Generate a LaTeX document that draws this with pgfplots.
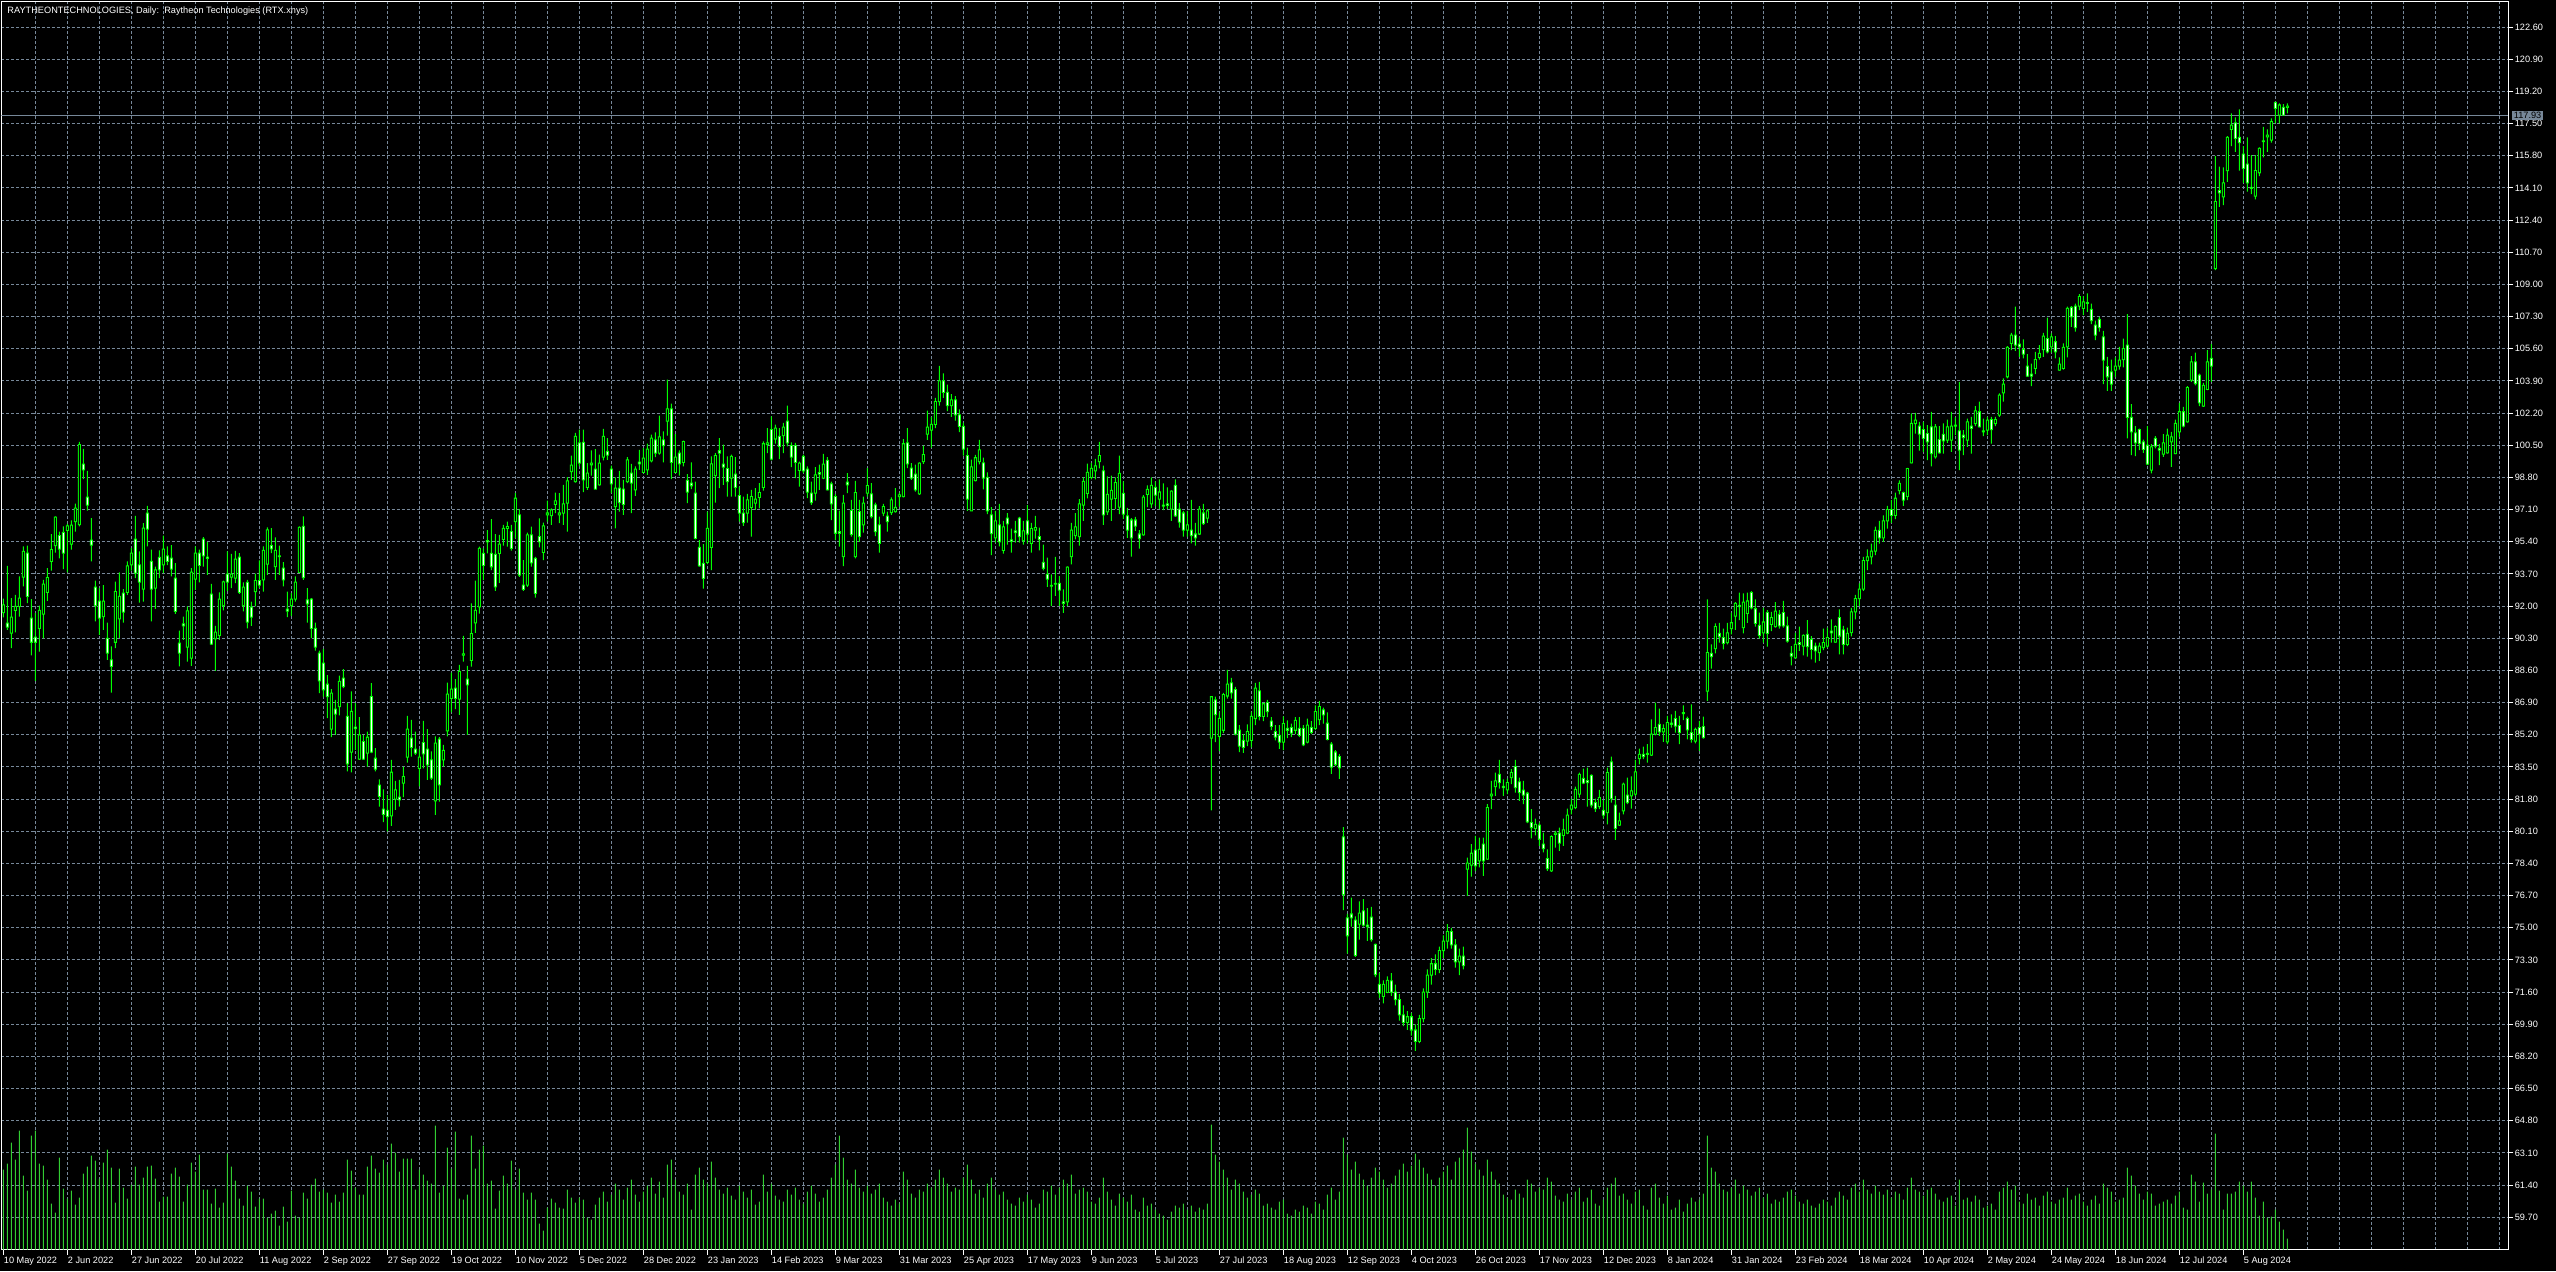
\documentclass[border=0pt]{standalone}
\usepackage{fontspec}
\setmainfont{Liberation Sans}
\usepackage{pgfplots}
\usepackage{pgfplotstable}
\pgfplotsset{compat=1.18}
\definecolor{candle}{RGB}{0,255,0}
\definecolor{volgreen}{RGB}{50,205,50}
\definecolor{gridgray}{RGB}{119,136,153}
\pgfplotstableread{
i o h l c v
0 91.66 92.40 91.40 92.07 80
1 91.10 94.13 90.75 90.89 86
2 90.57 92.42 89.78 91.42 107
3 91.77 92.60 90.61 91.98 90
4 91.98 93.57 91.45 92.42 119
5 93.53 95.15 93.04 94.89 74
6 94.80 95.19 92.16 92.51 59
7 91.36 92.37 89.39 90.09 114
8 90.36 91.63 88.05 90.09 119
9 90.82 92.02 89.60 91.77 86
10 91.58 93.39 90.29 93.16 84
11 92.72 94.01 92.28 93.51 70
12 94.36 95.80 93.88 94.98 46
13 95.20 96.74 94.83 96.70 37
14 95.72 95.94 94.52 95.01 92
15 95.89 96.21 93.95 94.80 61
16 96.00 96.35 93.78 96.24 51
17 95.28 96.53 94.98 96.28 59
18 96.47 97.41 95.94 97.18 45
19 96.31 100.68 96.21 100.53 52
20 99.50 100.31 98.71 99.20 76
21 97.76 99.15 97.05 97.34 83
22 95.49 96.65 94.36 95.22 94
23 93.00 93.34 91.19 92.02 89
24 92.26 92.95 90.48 91.36 71
25 91.45 93.11 90.75 92.26 87
26 90.29 91.13 89.16 89.51 100
27 89.16 89.87 87.43 88.81 82
28 90.09 93.30 89.78 92.77 47
29 91.33 93.78 90.31 92.51 81
30 92.69 92.90 91.13 91.68 62
31 92.72 94.36 92.60 94.13 51
32 94.18 95.06 93.88 94.80 65
33 95.54 96.77 93.48 93.74 83
34 94.18 94.89 92.19 93.27 65
35 92.90 96.39 92.24 96.12 72
36 96.91 97.30 95.15 96.07 83
37 94.36 94.98 91.19 92.90 84
38 92.95 94.09 91.86 93.92 71
39 94.57 94.94 93.48 93.92 48
40 94.18 95.72 93.74 95.01 53
41 94.66 95.15 94.17 94.36 53
42 94.54 95.22 93.57 93.95 76
43 93.48 94.27 91.59 91.72 82
44 90.04 90.71 88.81 89.51 73
45 91.06 91.45 90.22 90.96 48
46 89.83 91.98 89.07 91.75 65
47 89.25 94.01 88.84 93.80 87
48 93.43 95.15 92.86 94.80 78
49 94.80 94.98 93.25 94.15 95
50 95.54 95.65 94.09 94.66 60
51 94.59 95.38 93.65 94.52 60
52 92.63 93.18 89.95 89.99 46
53 90.27 90.96 88.58 90.62 61
54 90.45 92.72 90.22 92.37 42
55 92.02 93.34 91.77 93.28 47
56 93.69 94.89 92.81 93.27 96
57 93.53 94.76 92.95 93.69 83
58 93.48 94.92 93.21 94.48 69
59 94.59 94.80 92.65 92.72 51
60 92.03 93.25 91.72 93.00 44
61 93.25 93.39 90.82 91.15 64
62 91.95 92.24 90.96 91.42 58
63 92.77 93.71 91.98 93.35 43
64 93.35 94.41 92.95 93.11 51
65 93.39 95.15 92.77 94.94 51
66 94.22 96.16 93.65 96.03 32
67 95.20 96.12 94.80 95.03 36
68 94.09 95.63 93.39 94.94 39
69 94.66 95.19 93.65 94.62 24
70 94.01 94.32 93.04 93.39 43
71 91.84 92.77 91.42 91.73 28
72 92.02 92.69 91.49 92.37 59
73 92.37 93.57 92.24 93.27 34
74 93.78 96.21 93.74 96.16 32
75 96.21 96.74 93.39 93.51 57
76 92.33 92.95 91.13 92.12 51
77 92.37 92.42 90.31 90.82 65
78 90.82 91.13 89.65 89.83 71
79 89.51 89.65 87.40 88.05 58
80 88.99 89.74 87.22 87.58 60
81 87.87 88.35 86.08 87.22 57
82 85.50 87.61 85.07 87.40 47
83 86.55 87.05 85.20 86.29 55
84 86.69 88.32 86.22 88.02 48
85 88.19 88.67 87.66 87.75 57
86 86.17 86.87 83.26 83.66 90
87 84.28 87.49 83.21 86.43 79
88 85.60 86.87 84.40 85.53 62
89 83.91 86.13 83.88 85.20 55
90 84.84 85.20 83.88 83.91 55
91 84.23 85.37 83.52 85.07 83
92 87.22 87.93 84.23 84.28 94
93 83.96 84.49 83.26 83.38 81
94 82.54 82.85 81.41 81.94 77
95 81.27 82.32 80.58 81.00 90
96 81.20 82.02 80.09 80.88 85
97 80.92 83.88 80.39 83.22 106
98 81.80 82.77 81.23 82.29 97
99 81.90 82.82 81.41 81.76 78
100 82.64 83.52 81.90 82.99 91
101 84.02 86.20 83.73 85.50 91
102 85.02 85.99 84.05 84.54 91
103 84.44 85.37 84.14 84.23 60
104 83.43 84.44 82.47 84.02 80
105 84.79 85.94 83.43 84.19 75
106 84.44 85.50 82.82 83.61 69
107 83.88 84.32 82.82 82.91 66
108 81.71 85.11 80.97 84.76 124
109 84.97 85.07 81.67 82.55 57
110 83.88 84.67 83.52 84.37 64
111 85.41 87.96 85.11 87.35 102
112 87.13 88.49 86.39 87.61 81
113 87.66 88.14 86.55 87.13 118
114 87.08 88.90 86.25 88.54 51
115 89.41 90.43 89.07 89.48 50
116 88.14 88.84 85.20 87.84 55
117 89.13 92.14 88.80 90.55 114
118 91.11 93.34 90.58 91.78 81
119 91.96 95.14 91.60 95.05 100
120 94.79 95.05 93.37 94.15 104
121 95.46 96.02 94.79 95.39 66
122 94.79 96.59 93.90 94.08 69
123 94.73 95.81 92.81 93.02 41
124 94.79 95.76 93.23 95.28 59
125 95.53 96.29 95.19 96.11 74
126 96.11 96.46 95.14 96.20 66
127 95.93 96.29 94.93 95.05 89
128 96.46 97.97 95.58 97.70 60
129 96.82 97.12 93.55 93.64 81
130 93.11 94.43 92.81 92.88 57
131 93.11 95.88 93.02 95.76 50
132 95.76 96.20 94.08 94.29 57
133 94.52 94.60 92.45 92.67 50
134 95.67 96.64 95.10 95.39 26
135 94.84 96.41 94.43 96.24 19
136 96.82 97.58 96.46 96.92 42
137 96.78 97.17 96.29 97.08 51
138 97.38 98.00 96.91 97.56 47
139 96.82 97.97 96.38 96.92 42
140 96.91 98.41 96.29 97.40 41
141 97.44 98.81 95.93 98.62 60
142 99.11 99.95 98.67 99.45 52
143 98.58 101.15 98.53 100.97 47
144 100.62 101.32 99.38 99.56 52
145 100.65 101.32 98.02 98.67 50
146 98.28 99.56 98.14 99.03 32
147 99.47 100.23 98.89 99.56 30
148 99.24 100.30 98.18 98.18 45
149 98.41 100.00 98.37 99.56 52
150 99.87 101.36 99.70 100.97 58
151 100.18 100.88 99.73 99.98 48
152 99.24 99.42 97.97 98.46 55
153 97.26 98.80 96.11 98.23 66
154 98.23 99.15 96.99 97.47 60
155 98.18 98.67 96.82 97.38 50
156 98.58 99.87 98.50 99.73 62
157 99.03 99.52 96.91 98.50 70
158 98.14 99.38 97.82 99.24 55
159 99.61 100.26 99.20 99.52 48
160 99.07 100.35 99.03 99.82 58
161 99.20 100.58 98.94 100.30 64
162 99.68 101.06 99.59 100.88 72
163 100.79 101.18 99.87 100.09 56
164 100.09 102.07 100.00 100.94 68
165 100.79 101.24 99.59 100.48 52
166 101.77 103.97 101.01 102.42 85
167 102.42 102.70 98.71 99.59 90
168 99.07 101.09 99.03 99.87 70
169 100.09 100.23 98.89 99.52 58
170 99.59 100.74 99.38 100.69 55
171 98.64 98.97 97.44 98.02 66
172 98.50 99.59 98.18 98.36 40
173 97.97 98.58 95.53 95.58 75
174 95.10 95.49 94.08 94.13 82
175 94.26 95.28 92.93 93.46 70
176 94.31 96.99 94.22 96.11 66
177 95.10 99.91 93.90 99.52 88
178 98.90 100.09 97.47 99.95 72
179 100.21 100.88 98.23 100.09 60
180 99.50 100.53 98.41 99.34 56
181 99.26 99.91 97.79 98.58 62
182 98.76 100.00 97.79 99.91 54
183 98.97 99.87 97.79 98.28 50
184 97.84 98.32 96.46 96.91 64
185 96.91 97.79 96.24 96.41 58
186 96.91 97.93 96.41 97.61 52
187 97.22 98.14 95.67 97.79 60
188 97.44 98.23 97.08 97.65 45
189 97.75 98.50 97.17 98.00 48
190 98.28 100.71 98.10 100.58 75
191 100.55 101.41 100.09 100.62 58
192 101.32 102.03 99.70 99.77 66
193 100.83 101.59 100.58 101.41 54
194 100.97 101.41 99.77 100.44 50
195 101.01 101.68 100.09 101.46 48
196 101.78 102.60 100.44 100.62 60
197 100.48 100.65 99.34 99.87 55
198 100.48 100.62 98.76 99.59 62
199 99.17 99.64 98.32 99.56 50
200 99.91 100.00 99.03 99.15 46
201 99.24 99.38 97.70 98.02 58
202 97.97 98.58 97.35 97.47 64
203 97.97 99.34 97.58 98.94 56
204 99.05 99.47 98.14 98.97 48
205 98.76 100.05 98.71 99.50 52
206 99.70 99.87 98.11 98.14 60
207 98.46 98.58 96.55 97.40 72
208 97.79 97.93 95.49 95.85 85
209 95.93 97.05 95.14 95.85 114
210 94.61 97.88 94.11 97.44 92
211 98.55 99.03 97.97 98.41 70
212 97.05 97.61 95.67 95.79 66
213 94.61 98.62 94.52 98.00 80
214 96.99 97.61 95.40 95.67 62
215 96.29 97.79 95.88 97.44 58
216 97.97 99.29 97.79 98.37 64
217 97.93 98.50 96.64 96.73 56
218 97.35 97.47 95.70 95.93 60
219 96.29 96.73 94.82 95.32 66
220 96.91 97.40 96.76 97.26 52
221 96.76 96.99 95.93 96.46 48
222 96.94 97.74 96.82 97.61 44
223 96.99 98.23 96.94 97.22 50
224 97.79 98.00 97.26 97.88 46
225 97.79 100.83 97.75 100.58 78
226 100.62 101.41 99.29 99.52 70
227 99.29 99.56 98.67 98.76 56
228 98.97 99.47 98.05 98.14 52
229 97.93 99.60 97.88 99.56 60
230 99.64 100.48 99.52 100.00 58
231 101.09 102.33 100.79 101.46 66
232 101.30 102.00 100.37 101.60 62
233 101.60 103.00 101.40 102.80 70
234 102.80 104.70 102.60 103.90 80
235 103.90 104.30 103.00 103.30 72
236 103.30 103.70 102.30 102.60 66
237 102.60 103.20 102.00 102.90 58
238 102.90 103.10 101.80 102.10 62
239 102.10 102.40 101.20 101.50 60
240 101.50 101.70 99.95 100.30 72
241 99.95 100.37 97.03 97.65 85
242 97.03 99.74 97.03 99.36 70
243 98.63 99.99 98.59 99.84 56
244 99.64 100.78 99.49 100.26 60
245 99.57 99.84 98.17 98.76 52
246 98.80 99.07 96.86 97.03 66
247 96.82 97.23 94.69 95.83 72
248 95.61 97.03 95.35 96.50 60
249 96.29 97.40 95.15 95.40 55
250 94.94 96.50 94.77 96.19 58
251 96.65 96.92 95.25 96.34 50
252 95.50 96.09 94.83 95.42 46
253 95.98 96.50 95.35 95.88 44
254 96.65 96.71 95.35 95.67 52
255 95.46 96.50 95.25 95.98 48
256 96.50 97.34 95.31 95.81 55
257 95.31 96.40 94.83 96.09 50
258 96.02 96.77 95.56 96.15 42
259 95.67 96.15 94.94 95.52 46
260 94.31 95.25 93.89 94.00 60
261 93.68 94.56 93.02 93.43 58
262 93.10 93.68 92.01 93.06 64
263 93.16 94.60 92.54 93.20 55
264 93.20 93.58 92.01 92.85 62
265 92.22 92.89 91.64 92.14 70
266 92.22 94.10 92.01 94.06 66
267 94.62 96.40 94.21 96.02 75
268 95.73 96.92 95.52 96.19 56
269 95.67 97.65 95.19 97.40 60
270 97.34 98.80 96.50 98.59 62
271 97.96 99.53 97.69 99.07 58
272 98.80 99.57 98.70 99.28 48
273 99.15 99.78 98.70 99.41 46
274 99.64 100.68 99.28 99.95 52
275 99.15 99.43 96.29 96.82 72
276 96.98 98.86 96.82 97.90 58
277 97.65 98.90 96.50 98.11 50
278 97.69 98.80 97.13 98.53 44
279 97.23 99.95 96.86 99.01 56
280 97.96 98.59 96.61 96.86 52
281 96.77 97.19 95.61 96.02 48
282 96.55 96.65 94.62 95.61 55
283 96.55 96.71 95.98 96.23 40
284 95.81 96.02 95.04 95.56 38
285 95.77 97.86 95.73 97.76 52
286 97.90 98.38 97.23 98.17 44
287 97.40 98.80 97.19 98.38 46
288 98.28 98.59 97.28 97.86 40
289 97.65 98.70 97.13 98.03 36
290 97.34 98.49 97.07 97.28 34
291 97.40 98.28 97.13 97.32 30
292 97.13 98.11 96.50 98.07 38
293 98.38 98.70 96.71 96.77 44
294 97.13 97.44 96.15 96.44 42
295 96.92 97.03 95.67 96.02 46
296 96.02 97.03 95.67 96.29 40
297 96.02 97.61 95.31 95.73 44
298 95.81 96.40 95.19 95.61 38
299 95.81 97.28 95.77 97.13 42
300 96.92 97.40 96.29 96.36 40
301 96.65 97.13 96.40 97.03 46
302 85.02 87.21 81.20 87.21 125
303 87.04 87.21 84.81 86.27 95
304 85.12 86.38 84.33 86.06 88
305 85.44 87.42 85.29 87.32 80
306 87.25 88.63 87.11 87.88 72
307 87.94 88.21 87.11 87.42 60
308 87.59 87.73 85.17 85.23 70
309 85.44 85.71 84.29 84.60 66
310 84.91 85.23 84.25 84.54 58
311 84.87 85.75 84.60 85.37 52
312 84.91 86.42 84.54 86.17 55
313 86.06 87.94 85.71 87.67 60
314 87.52 88.00 85.96 86.17 56
315 86.17 86.90 85.92 86.84 44
316 86.90 87.04 86.13 86.42 46
317 85.92 86.13 85.44 85.65 42
318 85.37 85.71 84.91 85.08 40
319 85.17 85.71 84.46 84.81 48
320 84.81 86.17 84.39 85.79 50
321 85.54 85.96 85.02 85.44 36
322 85.58 85.79 85.08 85.29 34
323 85.44 86.13 85.23 85.96 40
324 85.54 86.13 85.08 85.17 38
325 85.54 85.71 84.60 84.67 44
326 84.81 86.06 84.75 85.71 42
327 85.58 85.92 85.23 85.33 36
328 85.54 86.75 85.44 86.42 48
329 86.00 86.98 85.71 86.69 46
330 86.52 86.63 85.79 86.25 40
331 85.81 86.38 84.91 84.96 55
332 84.71 84.81 83.14 83.49 62
333 84.29 84.39 83.56 83.62 50
334 84.04 84.18 82.87 83.45 58
335 79.80 80.32 75.94 76.77 112
336 75.52 75.73 73.64 74.58 95
337 75.73 76.60 75.06 75.52 80
338 75.40 75.60 73.47 73.54 88
339 75.20 76.40 74.37 75.77 76
340 75.90 76.52 75.06 75.14 70
341 75.14 76.04 74.31 75.06 64
342 75.56 76.10 74.27 74.37 72
343 74.12 74.16 72.39 72.53 82
344 72.01 72.60 71.30 71.55 78
345 71.38 72.22 71.00 72.01 70
346 71.59 72.43 71.55 72.22 62
347 72.20 72.60 71.40 71.60 66
348 71.60 72.00 70.90 71.20 74
349 71.20 71.50 70.10 70.40 80
350 70.40 70.90 69.80 70.00 86
351 70.00 70.60 69.60 70.30 78
352 70.30 70.50 69.30 69.60 84
353 69.60 69.90 68.50 69.00 96
354 69.00 70.40 68.90 70.20 90
355 70.20 71.80 70.00 71.60 82
356 71.60 72.80 71.30 72.50 76
357 72.50 73.40 72.00 73.10 70
358 73.10 73.60 72.50 72.80 64
359 72.80 74.00 72.60 73.80 72
360 73.80 74.60 73.40 74.30 78
361 74.30 75.20 73.90 74.80 84
362 74.80 75.00 73.90 74.10 70
363 74.10 74.40 72.90 73.20 88
364 73.20 73.90 72.50 73.50 92
365 73.50 74.00 72.80 73.00 100
366 78.10 78.71 76.69 78.42 122
367 78.31 79.42 77.71 78.94 98
368 79.10 79.86 78.01 78.27 86
369 78.54 79.77 78.19 79.15 80
370 79.42 79.77 77.75 78.54 74
371 78.63 81.53 78.60 81.35 90
372 81.97 82.76 81.27 82.06 78
373 82.46 83.20 81.97 82.76 70
374 83.11 83.87 82.36 82.67 66
375 82.47 82.85 81.97 82.41 55
376 82.29 82.88 82.06 82.67 52
377 82.94 83.38 82.59 83.20 50
378 83.52 83.87 82.15 82.41 60
379 82.71 82.94 81.71 82.15 56
380 82.27 82.76 81.53 82.01 52
381 82.11 82.18 80.53 80.60 70
382 80.56 81.27 79.72 80.30 66
383 80.25 80.77 79.89 80.47 58
384 80.42 80.56 79.33 79.68 62
385 79.42 80.03 78.98 79.19 60
386 78.66 79.15 78.01 78.13 72
387 78.01 79.89 77.96 79.82 68
388 79.94 80.12 79.24 80.00 54
389 80.00 80.30 79.07 79.47 50
390 79.89 80.77 79.33 80.17 48
391 80.00 81.30 79.95 80.95 56
392 81.27 81.83 81.00 81.48 50
393 81.35 82.46 81.27 82.32 58
394 82.06 83.20 81.88 83.11 62
395 82.89 83.41 82.59 82.64 48
396 82.78 83.47 81.41 82.67 52
397 83.06 83.11 81.35 81.48 60
398 81.62 81.83 81.12 81.30 46
399 81.41 82.29 81.27 81.88 44
400 81.21 81.76 80.77 80.95 50
401 81.09 83.47 80.47 83.20 62
402 83.77 84.05 81.62 81.83 66
403 81.48 81.97 79.65 80.25 72
404 80.42 81.09 80.39 80.65 54
405 81.18 82.67 81.00 82.59 56
406 82.01 82.94 81.53 81.62 50
407 81.97 83.00 81.30 82.23 46
408 82.06 83.87 81.97 83.24 58
409 83.94 84.47 83.64 84.17 60
410 84.17 84.57 83.91 84.05 44
411 84.22 84.70 83.73 84.17 40
412 84.12 86.02 84.08 85.23 62
413 85.23 86.90 85.17 85.58 66
414 85.75 86.58 85.14 85.35 52
415 85.35 85.75 84.82 85.53 46
416 84.82 86.20 84.70 85.84 54
417 85.81 86.28 85.58 85.75 40
418 86.05 86.46 85.31 85.66 42
419 85.68 86.20 84.70 85.31 50
420 86.37 86.76 85.98 86.32 38
421 86.05 86.16 84.96 85.46 46
422 85.31 86.81 84.79 84.96 52
423 84.87 85.58 84.75 85.49 48
424 85.58 85.93 84.35 85.23 50
425 85.63 86.16 85.00 85.05 56
426 87.51 92.35 86.99 89.54 114
427 89.50 89.98 88.69 89.33 82
428 89.75 91.09 89.50 90.91 78
429 90.56 91.12 90.07 90.38 66
430 90.33 90.81 89.71 90.03 60
431 90.07 91.12 89.98 90.59 58
432 90.81 91.65 90.51 91.12 62
433 91.47 92.21 90.74 92.14 70
434 92.04 92.71 91.26 91.97 56
435 90.86 92.67 90.56 92.21 64
436 91.62 92.71 91.12 92.27 60
437 92.71 92.79 91.83 91.91 54
438 91.86 92.35 90.91 91.09 58
439 90.98 91.65 90.28 90.45 62
440 90.59 91.91 90.07 91.16 52
441 91.65 91.79 89.86 90.56 56
442 91.03 91.69 90.68 91.39 46
443 90.91 92.21 90.86 91.74 50
444 91.56 91.79 90.81 90.95 48
445 91.65 92.27 90.86 90.95 52
446 90.95 91.44 90.07 90.15 58
447 89.50 89.89 88.87 89.36 60
448 89.27 90.59 89.22 89.98 54
449 90.07 90.91 89.63 89.98 48
450 89.89 90.51 89.40 90.45 46
451 90.51 91.26 89.33 89.86 50
452 90.24 90.42 89.19 89.71 44
453 89.89 90.07 89.01 89.63 42
454 89.54 90.07 89.10 89.89 46
455 89.80 90.81 89.68 90.07 50
456 89.89 90.86 89.80 90.33 48
457 90.68 91.30 90.07 90.59 44
458 90.10 90.98 90.07 90.91 52
459 91.39 91.83 89.45 90.42 58
460 90.74 90.95 89.45 89.98 54
461 89.98 90.86 89.89 90.56 50
462 90.60 91.90 90.40 91.70 62
463 91.70 92.60 91.30 92.40 66
464 92.40 93.20 92.00 92.90 58
465 92.90 94.60 92.80 94.40 70
466 94.40 95.00 93.90 94.60 60
467 94.60 95.30 94.20 94.90 56
468 94.90 96.20 94.70 96.00 64
469 96.00 96.50 95.30 95.60 58
470 95.60 96.80 95.40 96.50 55
471 96.50 97.30 96.10 97.10 60
472 97.10 97.60 96.40 96.80 52
473 96.80 98.00 96.60 97.70 58
474 98.10 98.65 97.90 98.48 56
475 98.00 98.05 97.30 97.60 50
476 97.80 99.30 97.60 99.27 62
477 99.57 102.18 99.54 101.65 72
478 101.65 102.21 101.12 101.83 60
479 101.51 101.74 100.21 101.09 58
480 101.33 101.74 100.15 100.86 54
481 101.12 101.56 99.71 100.68 60
482 101.47 102.27 99.39 100.06 62
483 99.89 101.61 99.80 101.47 56
484 100.80 101.51 100.06 100.10 50
485 101.07 101.65 100.06 100.73 48
486 100.77 101.86 100.63 101.47 52
487 100.77 102.27 100.15 101.51 54
488 101.56 101.97 101.03 101.51 44
489 101.26 103.85 99.18 100.24 70
490 101.03 101.30 99.98 100.91 50
491 100.77 101.91 100.42 101.74 52
492 101.51 102.00 100.06 101.39 48
493 101.65 102.57 101.51 102.32 54
494 102.27 102.80 101.44 101.47 50
495 101.26 101.91 100.98 101.21 42
496 101.30 102.00 101.03 101.83 44
497 101.86 102.00 100.59 101.33 46
498 101.65 102.00 101.51 101.86 40
499 102.09 103.24 102.00 103.15 58
500 103.27 104.03 102.80 103.73 62
501 104.12 105.74 104.03 105.67 68
502 105.88 106.44 105.53 106.32 60
503 106.32 107.82 105.49 105.79 64
504 105.84 106.20 105.17 105.70 48
505 105.56 106.09 105.09 105.31 46
506 104.68 105.31 104.12 104.15 56
507 104.26 104.82 103.62 104.15 50
508 104.56 105.44 104.26 105.03 52
509 105.14 105.79 105.03 105.35 44
510 105.56 106.44 105.17 106.27 54
511 106.14 107.25 105.35 105.44 58
512 105.70 106.41 105.39 106.23 48
513 105.97 106.27 105.09 105.44 46
514 104.47 105.14 104.44 104.79 50
515 104.56 105.88 104.50 105.67 52
516 105.70 107.82 105.14 107.73 62
517 107.78 107.85 106.76 107.29 50
518 107.85 107.99 106.50 106.72 54
519 107.85 108.49 107.64 108.35 56
520 107.73 108.38 107.38 108.08 48
521 108.03 108.52 107.55 108.00 44
522 107.68 107.99 106.90 107.08 50
523 106.85 107.08 106.06 106.32 54
524 107.15 107.29 106.50 106.72 46
525 106.23 106.55 103.73 105.00 66
526 104.65 105.17 103.38 104.12 62
527 104.38 105.03 103.38 103.73 58
528 104.47 105.14 104.12 104.68 48
529 104.68 105.70 104.50 105.00 50
530 105.03 106.14 104.61 105.61 52
531 105.79 107.43 100.86 101.97 82
532 101.97 102.67 99.98 101.21 74
533 101.16 101.51 99.92 100.63 64
534 101.33 101.38 100.24 100.59 56
535 100.68 100.80 100.10 100.28 50
536 100.50 101.51 99.45 99.50 58
537 99.18 100.56 99.01 100.42 56
538 100.86 100.98 100.33 100.45 44
539 100.33 100.56 99.45 100.24 46
540 100.03 101.09 99.89 100.63 48
541 100.10 101.38 100.06 101.03 50
542 100.68 101.21 99.36 100.94 46
543 100.06 101.86 100.03 101.65 54
544 101.21 102.74 100.94 102.27 58
545 102.27 102.53 101.44 101.51 42
546 101.74 103.62 101.69 103.55 40
547 103.94 105.21 103.85 104.91 75
548 104.91 105.39 103.67 103.76 68
549 104.21 104.29 102.57 102.74 48
550 102.57 103.80 102.53 103.67 67
551 103.45 105.53 103.41 104.91 56
552 105.09 105.84 103.85 104.68 60
553 109.84 115.78 109.76 113.37 116
554 113.95 115.22 113.10 113.84 59
555 113.63 115.18 113.19 114.37 40
556 115.01 116.84 114.42 116.77 56
557 117.19 118.04 116.31 117.42 56
558 117.54 117.83 116.01 116.72 58
559 116.77 118.25 115.01 116.49 68
560 115.89 116.31 114.37 115.13 64
561 115.36 116.77 113.90 114.37 58
562 114.13 115.83 113.77 114.07 68
563 113.67 115.83 113.49 115.01 52
564 114.90 116.24 114.72 116.19 34
565 116.54 117.33 115.71 116.59 48
566 116.80 117.19 116.01 116.89 32
567 116.63 117.77 116.49 117.60 33
568 118.62 118.65 117.51 118.30 40
569 117.95 118.57 117.51 118.48 28
570 118.35 118.53 117.95 117.95 20
571 118.35 118.57 118.04 118.42 11
}\data
\pgfplotsset{
  overlay/.style={at={(0.75pt,10.75pt)}, anchor=south west,
    scale only axis, width=1253.5pt, height=624pt,
    xmin=-0.5, xmax=626.25, axis lines=none},
  pricey/.style={ymin=58, ymax=123.95},
}
\begin{document}
\begin{tikzpicture}
\path[use as bounding box, fill=black] (0,0) rectangle (1278pt,635.5pt);
\begin{axis}[
  at={(0.75pt,10.75pt)}, anchor=south west,
  scale only axis, width=1253.5pt, height=624pt,
  xmin=-0.5, xmax=626.25, ymin=58, ymax=123.95,
  axis background/.style={fill=black},
  axis line style={white, line width=0.5pt},
  tick style={white, line width=0.5pt},
  major tick length=2.5pt, minor tick length=0pt,
  tick align=outside,
  xtick pos=left, ytick pos=right, yticklabel pos=right,
  xtick={0,16,...,560},
  xticklabels={10 May 2022,2 Jun 2022,27 Jun 2022,20 Jul 2022,11 Aug 2022,2 Sep 2022,27 Sep 2022,19 Oct 2022,10 Nov 2022,5 Dec 2022,28 Dec 2022,23 Jan 2023,14 Feb 2023,9 Mar 2023,31 Mar 2023,25 Apr 2023,17 May 2023,9 Jun 2023,5 Jul 2023,27 Jul 2023,18 Aug 2023,12 Sep 2023,4 Oct 2023,26 Oct 2023,17 Nov 2023,12 Dec 2023,8 Jan 2024,31 Jan 2024,23 Feb 2024,18 Mar 2024,10 Apr 2024,2 May 2024,24 May 2024,18 Jun 2024,12 Jul 2024,5 Aug 2024},
  minor xtick={8,16,...,624},
  xminorgrids=true, xmajorgrids=false, ymajorgrids=true,
  ytick={59.7,61.4,63.1,64.8,66.5,68.2,69.9,71.6,73.3,75,76.7,78.4,80.1,81.8,83.5,85.2,86.9,88.6,90.3,92,93.7,95.4,97.1,98.8,100.5,102.2,103.9,105.6,107.3,109,110.7,112.4,114.1,115.8,117.5,119.2,120.9,122.6},
  yticklabels={59.70,61.40,63.10,64.80,66.50,68.20,69.90,71.60,73.30,75.00,76.70,78.40,80.10,81.80,83.50,85.20,86.90,88.60,90.30,92.00,93.70,95.40,97.10,98.80,100.50,102.20,103.90,105.60,107.30,109.00,110.70,112.40,114.10,115.80,117.50,119.20,120.90,122.60},
  grid style={gridgray, line width=0.5pt, dash pattern=on 1.5pt off 1pt},
  minor grid style={gridgray, line width=0.5pt, dash pattern=on 1.5pt off 1pt},
  ticklabel style={text=white, font=\fontsize{4.6pt}{5.5pt}\selectfont},
  xticklabel style={anchor=north west, inner sep=0pt, yshift=-1pt},
  yticklabel style={anchor=west, inner sep=0pt, xshift=0.5pt},
]
\addplot[gridgray, line width=0.5pt, forget plot] coordinates {(-0.5,117.93) (626.25,117.93)};
\coordinate (pl) at (axis cs:626.25,117.93);
\node[anchor=north west, inner sep=0pt, text=white, font=\fontsize{4.6pt}{5.5pt}\selectfont]
  at (rel axis cs:0,1) [xshift=2.8pt, yshift=-2.5pt] {RAYTHEONTECHNOLOGIES, Daily:\ \ Raytheon Technologies (RTX.xnys)};
\end{axis}
% wicks
\begin{axis}[overlay, pricey, ybar stacked, bar width=0.5pt]
\addplot[draw=none, fill=none] table[x=i, y=l] {\data};
\addplot[draw=none, fill=candle] table[x=i, y expr={\thisrow{h}-\thisrow{l}}] {\data};
\end{axis}
% bodies
\begin{axis}[overlay, pricey, ybar stacked, bar width=1.5pt]
\addplot[draw=none, fill=none] table[x=i, y expr={min(\thisrow{o},\thisrow{c})-0.027}] {\data};
\addplot[draw=none, fill=candle] table[x=i, y expr={abs(\thisrow{c}-\thisrow{o})+0.054}] {\data};
\end{axis}
% bull bodies (hollow, black inside)
\begin{axis}[overlay, pricey, ybar stacked, bar width=0.5pt]
\addplot[draw=none, fill=none] table[x=i, y expr={min(\thisrow{o},\thisrow{c})+0.027}] {\data};
\addplot[draw=none, fill=black] table[x=i, y expr={max(\thisrow{c}-\thisrow{o}-0.054,0)}] {\data};
\end{axis}
% bear bodies (white inside)
\begin{axis}[overlay, pricey, ybar stacked, bar width=0.5pt]
\addplot[draw=none, fill=none] table[x=i, y expr={min(\thisrow{o},\thisrow{c})+0.027}] {\data};
\addplot[draw=none, fill=white] table[x=i, y expr={max(\thisrow{o}-\thisrow{c}-0.054,0)}] {\data};
\end{axis}
% volumes
\begin{axis}[overlay, ymin=0, ymax=1248, ybar, bar width=0.5pt]
\addplot[draw=none, fill=volgreen] table[x=i, y=v] {\data};
\end{axis}
\node[fill=gridgray, text=black, inner xsep=1pt, inner ysep=0.75pt, text height=3.3pt, text depth=0pt,
  anchor=west, font=\fontsize{4.6pt}{5.5pt}\selectfont, xshift=1.5pt] at (pl) {117.93};
\end{tikzpicture}
\end{document}
